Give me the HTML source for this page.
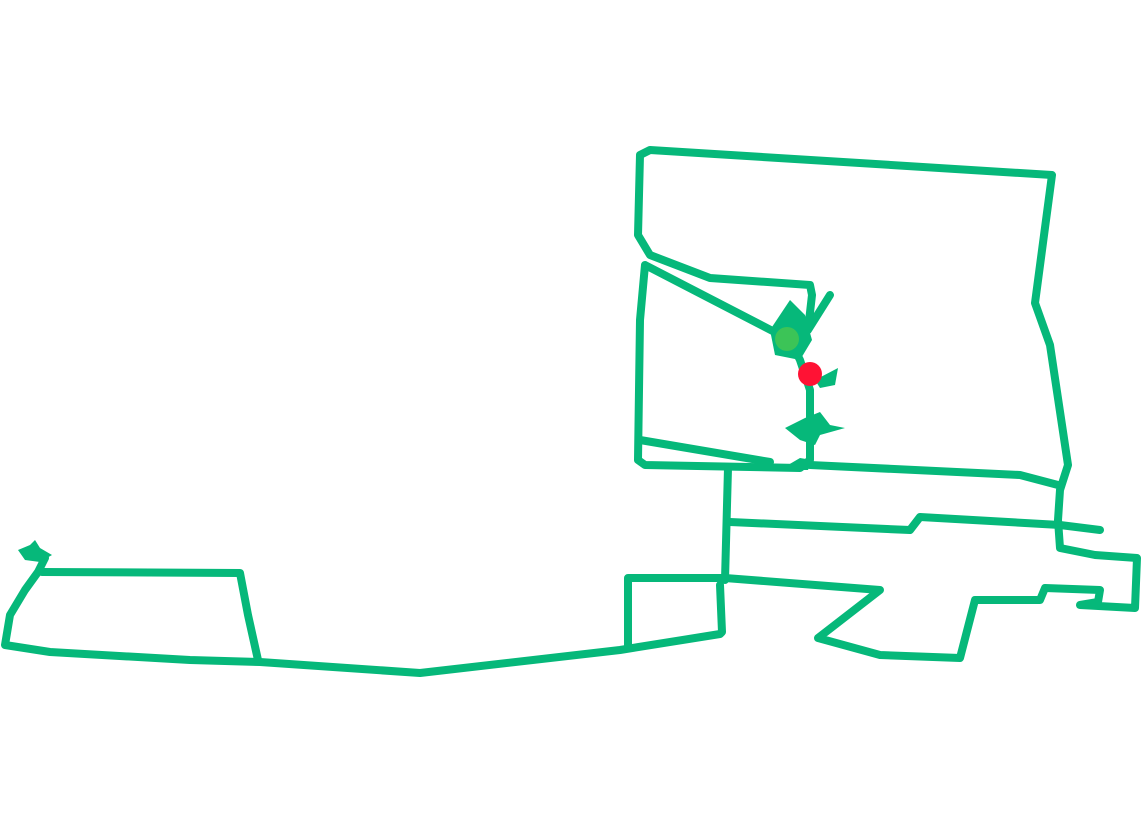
<!DOCTYPE html>
<html><head><style>body{margin:0;background:#fff}svg{display:block}</style></head>
<body>
<svg width="1141" height="822" viewBox="0 0 1141 822" xmlns="http://www.w3.org/2000/svg">
<g fill="none" stroke="#06b87a" stroke-width="8" stroke-linejoin="round" stroke-linecap="round">
<polyline points="45,558 38,572 25,590 10,615 5,645 50,652 190,660 260,662 420,673 620,650 720,634 722,632 720,585"/>
<polyline points="42,572 240,573 248,615 258,660"/>
<polyline points="628,648 628,578 725,578 880,590 818,638 880,655 960,658 975,600 1040,600 1045,588 1100,590 1098,602 1080,605 1135,608 1137,558 1095,555 1060,548 1058,520 1060,490 1068,465 1050,345 1035,303 1052,175 650,150 640,155 638,235 650,255 710,278 810,285 812,295 808,330 830,295"/>
<polyline points="645,265 640,320 638,460 645,465 800,468 810,460 810,390 800,360 790,340 645,265"/>
<polyline points="640,440 770,462"/>
<polyline points="728,468 725,580"/>
<polyline points="730,522 910,530 920,517 1060,525 1100,530"/>
<polyline points="810,465 1020,475 1058,485"/>
</g>
<g fill="#06b87a">
<polygon points="18,550 30,545 35,540 40,548 52,555 40,562 25,560"/>
<polygon points="770,330 790,300 805,315 812,340 800,360 775,355"/>
<polygon points="785,428 805,418 820,412 830,425 845,428 820,435 815,445 800,440"/>
<polygon points="815,380 838,368 835,385 820,388"/>
<polygon points="788,465 800,458 812,460 808,470 790,470"/>
</g>
<circle cx="787" cy="339" r="12" fill="#3cc457"/>
<circle cx="810" cy="374" r="12" fill="#ff1234"/>
</svg>
</body></html>
